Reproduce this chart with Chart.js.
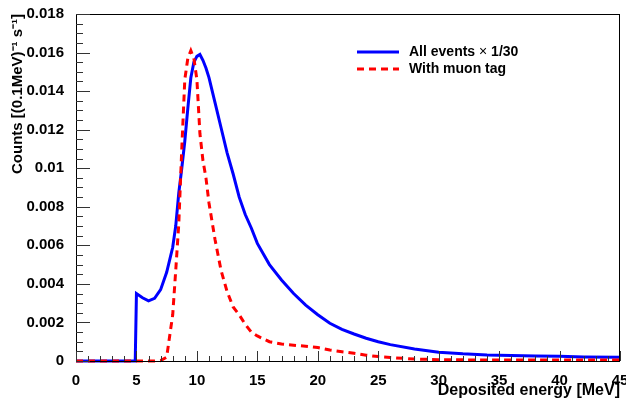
<!DOCTYPE html>
<html>
<head>
<meta charset="utf-8">
<script src="https://cdn.jsdelivr.net/npm/chart.js@4.4.1/dist/chart.umd.min.js"></script>
<style>
  html, body { margin: 0; padding: 0; background: #fff; }
  #wrap { width: 626px; height: 400px; }
</style>
</head>
<body>
<div id="wrap"><canvas id="spectrum"></canvas></div>
<script>
// deposited energy [MeV]
const energy = [0, 4.9, 5.0, 5.5, 6.0, 6.5, 7.0, 7.5, 8.0, 8.25, 8.5, 8.75, 9.0, 9.25, 9.5, 9.75,
  10.0, 10.25, 10.5, 10.75, 11.0, 11.5, 12, 12.5, 13, 13.5, 14, 14.5, 15, 16, 17, 18, 19, 20,
  21, 22, 23, 24, 25, 26, 28, 30, 32, 34, 36, 38, 40, 42, 45];

// counts per 0.1 MeV per second, all events scaled by 1/30
const allEvents = [0, 0, 0.0035, 0.00328, 0.00312, 0.00325, 0.0037, 0.0046, 0.0059, 0.0070, 0.0087, 0.0100,
  0.0114, 0.0131, 0.0147, 0.0155, 0.0158, 0.0159, 0.0156, 0.0152, 0.0147, 0.0134, 0.0121, 0.0108,
  0.0097, 0.0085, 0.0076, 0.0069, 0.0061, 0.0050, 0.0042, 0.0035, 0.0029, 0.0024, 0.00196, 0.00164,
  0.0014, 0.00118, 0.0010, 0.00085, 0.00062, 0.00046, 0.00037, 0.00031, 0.00028, 0.00026, 0.00024,
  0.00021, 0.00019];

// counts with muon tag
const muonTagged = [0, 0, 0, 0, 0, 0, 0.00002, 0.0002, 0.0024, 0.0047, 0.0071, 0.0110, 0.0146, 0.0157,
  0.0161, 0.0157, 0.0146, 0.0118, 0.0104, 0.0095, 0.0082, 0.0063, 0.0047, 0.0036, 0.0028, 0.0024,
  0.0019, 0.0015, 0.0013, 0.0010, 0.00088, 0.00082, 0.00077, 0.0007, 0.00057, 0.00048, 0.0004,
  0.0003, 0.00023, 0.00018, 0.0001, 0.00007, 0.00006, 0.00005, 0.00005, 0.00005, 0.00005,
  0.00005, 0.00005];

const xTicks = [0, 5, 10, 15, 20, 25, 30, 35, 40, 45];
const yTicks = [0, 0.002, 0.004, 0.006, 0.008, 0.01, 0.012, 0.014, 0.016, 0.018];

const FONT = "'Liberation Sans', Arial, Helvetica, sans-serif";
Chart.defaults.font.family = FONT;
Chart.defaults.color = "#000";

function points(values) {
  return energy.map((e, i) => ({ x: e, y: values[i] }));
}

// ROOT-like frame, inward tick marks and legend
const rootStyle = {
  id: "rootStyle",
  afterDatasetsDraw(chart) {
    const { ctx, chartArea: a, scales } = chart;
    const x = scales.x;
    const y = scales.y;

    ctx.save();
    ctx.strokeStyle = "#000";
    ctx.lineWidth = 1;
    ctx.strokeRect(a.left + 0.5, a.top + 0.5, a.right - a.left - 1, a.bottom - a.top);

    ctx.strokeStyle = "#333";
    ctx.beginPath();
    for (let v = 0; v <= 45; v += 1) {
      const px = Math.round(x.getPixelForValue(v)) + 0.5;
      const len = v % 5 === 0 ? 10 : 5;
      ctx.moveTo(px, a.bottom);
      ctx.lineTo(px, a.bottom - len);
    }
    for (let i = 0; i <= 36; i++) {
      const v = i * 0.0005;
      const py = Math.round(y.getPixelForValue(v)) + 0.5;
      const len = i % 4 === 0 ? 14 : 7;
      ctx.moveTo(a.left, py);
      ctx.lineTo(a.left + len, py);
    }
    ctx.stroke();

    // legend
    const rows = [52, 69];
    chart.data.datasets.forEach((ds, i) => {
      const yy = rows[i];
      ctx.strokeStyle = ds.borderColor;
      ctx.lineWidth = 3;
      ctx.setLineDash(ds.borderDash || []);
      ctx.beginPath();
      ctx.moveTo(357, yy);
      ctx.lineTo(399, yy);
      ctx.stroke();
      ctx.setLineDash([]);

      ctx.fillStyle = "#000";
      ctx.textBaseline = "middle";
      ctx.textAlign = "left";
      let tx = 409;
      const parts = ds.label.split("×");
      parts.forEach((p, k) => {
        ctx.font = "bold 14px " + FONT;
        ctx.fillText(p, tx, yy);
        tx += ctx.measureText(p).width;
        if (k < parts.length - 1) {
          ctx.font = "14px " + FONT;
          ctx.fillText("×", tx, yy);
          tx += ctx.measureText("×").width;
        }
      });
    });
    ctx.restore();
  },
};

const ctx = document.getElementById("spectrum").getContext("2d");
new Chart(ctx, {
  type: "line",
  data: {
    datasets: [
      {
        label: "All events × 1/30",
        data: points(allEvents),
        borderColor: "#0000ff",
        borderWidth: 3,
        pointRadius: 0,
        tension: 0,
        clip: false,
        order: 1,
      },
      {
        label: "With muon tag",
        data: points(muonTagged),
        borderColor: "#ff0000",
        borderWidth: 3,
        borderDash: [7, 5],
        pointRadius: 0,
        tension: 0,
        clip: false,
        order: 0,
      },
    ],
  },
  options: {
    responsive: true,
    maintainAspectRatio: false,
    animation: false,
    layout: { padding: { top: 14, right: 6, left: 0, bottom: 0 } },
    plugins: {
      legend: { display: false },
      tooltip: { enabled: false },
    },
    scales: {
      x: {
        type: "linear",
        min: 0,
        max: 45,
        afterBuildTicks: (s) => { s.ticks = xTicks.map((v) => ({ value: v })); },
        afterFit: (s) => { s.height = 39; s.paddingLeft = 0; s.paddingRight = 0; },
        grid: { display: false },
        border: { display: false },
        ticks: {
          padding: 3,
          maxRotation: 0,
          autoSkip: false,
          color: "#000",
          font: { size: 15, weight: "bold" },
        },
        title: {
          display: true,
          text: "Deposited energy [MeV]",
          align: "end",
          color: "#000",
          font: { size: 16, weight: "bold" },
          padding: { top: 0, bottom: 0 },
        },
      },
      y: {
        min: 0,
        max: 0.018,
        afterBuildTicks: (s) => { s.ticks = yTicks.map((v) => ({ value: v })); },
        afterFit: (s) => { s.width = 76; s.paddingTop = 0; s.paddingBottom = 0; },
        grid: { display: false },
        border: { display: false },
        ticks: {
          padding: 4,
          autoSkip: false,
          color: "#000",
          font: { size: 15, weight: "bold" },
          callback: (v) => String(parseFloat(Number(v).toFixed(3))),
        },
        title: {
          display: true,
          text: "Counts [(0.1MeV)⁻¹ s⁻¹]",
          align: "end",
          color: "#000",
          font: { size: 15, weight: "bold" },
          padding: { top: 9, bottom: 0 },
        },
      },
    },
  },
  plugins: [rootStyle],
});
</script>
</body>
</html>
